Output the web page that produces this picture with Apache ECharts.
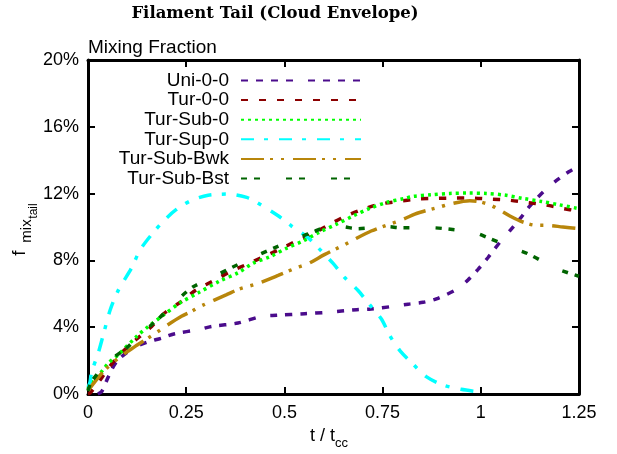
<!DOCTYPE html>
<html>
<head>
<meta charset="utf-8">
<script src="https://cdn.jsdelivr.net/npm/echarts@6/dist/echarts.min.js"></script>
<style>
  html, body { margin: 0; padding: 0; background: #fff; }
  #chart { width: 617px; height: 454px; }
</style>
</head>
<body>
<div id="chart"></div>
<script>
// tick labels
const xTickLabels = ['0', '0.25', '0.5', '0.75', '1', '1.25'];
const yTickLabels = ['0%', '4%', '8%', '12%', '16%', '20%'];

// series names
const names = ['Uni-0-0', 'Tur-0-0', 'Tur-Sub-0', 'Tur-Sup-0', 'Tur-Sub-Bwk', 'Tur-Sub-Bst'];

// [t / tcc, mixing fraction %]
const uni00 = [[0.025,0],[0.035,0.15],[0.052,1.04],[0.073,1.94],[0.115,2.75],[0.149,3.09],[0.188,3.35],[0.221,3.61],[0.281,3.85],[0.315,4.05],[0.382,4.25],[0.442,4.65],[0.48,4.71],[0.552,4.81],[0.607,4.89],[0.684,5.05],[0.721,5.09],[0.777,5.25],[0.815,5.38],[0.853,5.49],[0.887,5.7],[0.938,6.26],[0.967,6.82],[0.993,7.46],[1.018,8.16],[1.053,9.22],[1.077,9.86],[1.099,10.47],[1.124,11.23],[1.162,12.17],[1.192,12.77],[1.224,13.31],[1.25,13.65]];
const tur00 = [[0,0],[0.005,0.05],[0.031,0.84],[0.052,1.55],[0.077,2.25],[0.102,2.85],[0.132,3.45],[0.162,4.05],[0.195,4.85],[0.238,5.55],[0.277,6.26],[0.318,6.76],[0.365,7.36],[0.404,7.76],[0.441,8.16],[0.484,8.62],[0.531,9.16],[0.569,9.56],[0.611,10.1],[0.654,10.63],[0.696,11.03],[0.743,11.37],[0.79,11.53],[0.836,11.67],[0.878,11.71],[0.93,11.73],[0.976,11.73],[1.023,11.67],[1.07,11.61],[1.116,11.47],[1.163,11.33],[1.209,11.11],[1.25,10.95]];
const turSub0 = [[0,0.3],[0.005,0.55],[0.03,1.2],[0.052,1.85],[0.077,2.35],[0.124,3.45],[0.154,4.05],[0.188,4.65],[0.234,5.45],[0.281,6.06],[0.335,6.76],[0.382,7.26],[0.421,7.84],[0.463,8.22],[0.505,8.72],[0.547,9.16],[0.59,9.7],[0.633,10.17],[0.675,10.66],[0.717,11.11],[0.76,11.47],[0.806,11.71],[0.827,11.83],[0.874,11.93],[0.921,12.01],[0.968,12.03],[1.014,12.01],[1.061,11.91],[1.107,11.71],[1.154,11.53],[1.2,11.33],[1.25,11.1]];
const turSup0 = [[0,0.4],[0.005,0.7],[0.009,1.3],[0.026,2.45],[0.039,3.55],[0.056,5.0],[0.078,6.25],[0.111,7.55],[0.132,8.6],[0.162,9.55],[0.192,10.35],[0.225,11.05],[0.264,11.6],[0.306,11.9],[0.357,11.97],[0.404,11.77],[0.43,11.47],[0.484,10.67],[0.518,10.06],[0.56,9.36],[0.59,8.66],[0.624,7.82],[0.654,6.96],[0.687,6.21],[0.717,5.35],[0.747,4.49],[0.768,3.51],[0.794,2.6],[0.827,1.8],[0.861,1.04],[0.904,0.54],[0.95,0.28],[0.997,0.12]];
const turSubBwk = [[0,0.2],[0.039,1.34],[0.08,2.2],[0.12,2.85],[0.149,3.29],[0.175,3.69],[0.2,4.09],[0.238,4.65],[0.264,4.95],[0.29,5.29],[0.353,5.95],[0.382,6.26],[0.41,6.46],[0.437,6.66],[0.484,7.1],[0.531,7.56],[0.56,7.8],[0.603,8.36],[0.65,8.9],[0.675,9.22],[0.721,9.76],[0.768,10.17],[0.798,10.42],[0.832,10.77],[0.844,10.87],[0.891,11.17],[0.921,11.37],[0.972,11.57],[0.993,11.53],[1.023,11.33],[1.044,11.07],[1.074,10.66],[1.107,10.3],[1.142,10.1],[1.167,10.1],[1.209,10.0],[1.25,9.9]];
const turSubBst = [[0,0.2],[0.009,0.74],[0.05,1.9],[0.098,2.75],[0.128,3.45],[0.162,4.15],[0.195,4.85],[0.238,5.85],[0.268,6.42],[0.323,7.06],[0.365,7.56],[0.437,8.36],[0.471,8.72],[0.54,9.4],[0.573,9.7],[0.615,10.05],[0.65,10.02],[0.684,9.9],[0.76,10.02],[0.798,9.96],[0.87,9.96],[0.908,9.9],[0.984,9.66],[1.018,9.36],[1.086,8.7],[1.12,8.4],[1.188,7.56],[1.222,7.26],[1.25,7.05]];

const seriesData = [uni00, tur00, turSub0, turSup0, turSubBwk, turSubBst];
const colors = ['#4b0c8c', '#8b0000', '#00ff00', '#00ffff', '#b8860b', '#006400'];
const dashes = [
  [7, 8, 7, 8, 7, 8, 7, 15],
  [7, 11],
  [3, 4],
  [13, 10, 4, 11],
  [23, 6, 3, 8, 3, 9],
  [6, 7, 6, 26]
];

const font = 'Liberation Sans';

const legends = names.map((name, i) => ({
  data: [name],
  orient: 'vertical',
  align: 'right',
  right: 255,
  top: 71 + 19.6 * i,
  padding: 0,
  itemWidth: 120,
  itemHeight: 14,
  selectedMode: false,
  itemStyle: { opacity: 0 },
  textStyle: { fontFamily: font, fontSize: 19, color: '#000', padding: [0, 7, 0, 0] }
}));

const axisCommon = {
  axisLine: { show: true, onZero: false, lineStyle: { color: '#000', width: 3 } },
  axisTick: { show: true, inside: true, length: 7, lineStyle: { color: '#000', width: 2 } },
  splitLine: { show: false }
};

const options = {
  animation: false,
  backgroundColor: '#fff',
  grid: { left: 88, right: 38, top: 60, bottom: 60 },
  legend: legends,
  xAxis: [
    Object.assign({
      type: 'value', min: 0, max: 1.25, interval: 0.25, position: 'bottom',
      axisLabel: {
        margin: 10, color: '#000', fontFamily: font, fontSize: 18,
        formatter: (v, i) => xTickLabels[i]
      }
    }, axisCommon),
    Object.assign({
      type: 'value', min: 0, max: 1.25, interval: 0.25, position: 'top',
      axisLabel: { show: false }
    }, axisCommon)
  ],
  yAxis: [
    Object.assign({
      type: 'value', min: 0, max: 20, interval: 4, position: 'left',
      axisLabel: {
        margin: 9, color: '#000', fontFamily: font, fontSize: 18,
        formatter: (v, i) => yTickLabels[i]
      }
    }, axisCommon),
    Object.assign({
      type: 'value', min: 0, max: 20, interval: 4, position: 'right',
      axisLabel: { show: false }
    }, axisCommon)
  ],
  series: seriesData.map((d, i) => ({
    name: names[i],
    type: 'line',
    data: d,
    smooth: 0.3,
    symbol: 'none',
    xAxisIndex: 0,
    yAxisIndex: 0,
    lineStyle: { color: colors[i], width: 3.5, type: dashes[i] },
    itemStyle: { color: colors[i] }
  })),
  graphic: [
    { type: 'text', x: 275, y: 14,
      style: { text: 'Filament Tail (Cloud Envelope)', align: 'center', verticalAlign: 'middle',
        font: 'bold 16.5px "DejaVu Serif"', fill: '#000' } },
    { type: 'text', x: 88, y: 48,
      style: { text: 'Mixing Fraction', align: 'left', verticalAlign: 'middle',
        font: '19px "Liberation Sans"', fill: '#000' } },
    { type: 'text', x: 20, y: 253, rotation: Math.PI / 2,
      style: { text: 'f', align: 'center', verticalAlign: 'middle', font: '19px "Liberation Sans"', fill: '#000' } },
    { type: 'text', x: 27, y: 231, rotation: Math.PI / 2,
      style: { text: 'mix', align: 'center', verticalAlign: 'middle', font: '15px "Liberation Sans"', fill: '#000' } },
    { type: 'text', x: 34, y: 211, rotation: Math.PI / 2,
      style: { text: 'tail', align: 'center', verticalAlign: 'middle', font: '12px "Liberation Sans"', fill: '#000' } },
    { type: 'text', x: 335, y: 436,
      style: { text: 't / t', align: 'right', verticalAlign: 'middle', font: '18px "Liberation Sans"', fill: '#000' } },
    { type: 'text', x: 335, y: 443,
      style: { text: 'cc', align: 'left', verticalAlign: 'middle', font: '13px "Liberation Sans"', fill: '#000' } }
  ]
};

const chart = echarts.init(document.getElementById('chart'));
chart.setOption(options);
</script>
</body>
</html>
